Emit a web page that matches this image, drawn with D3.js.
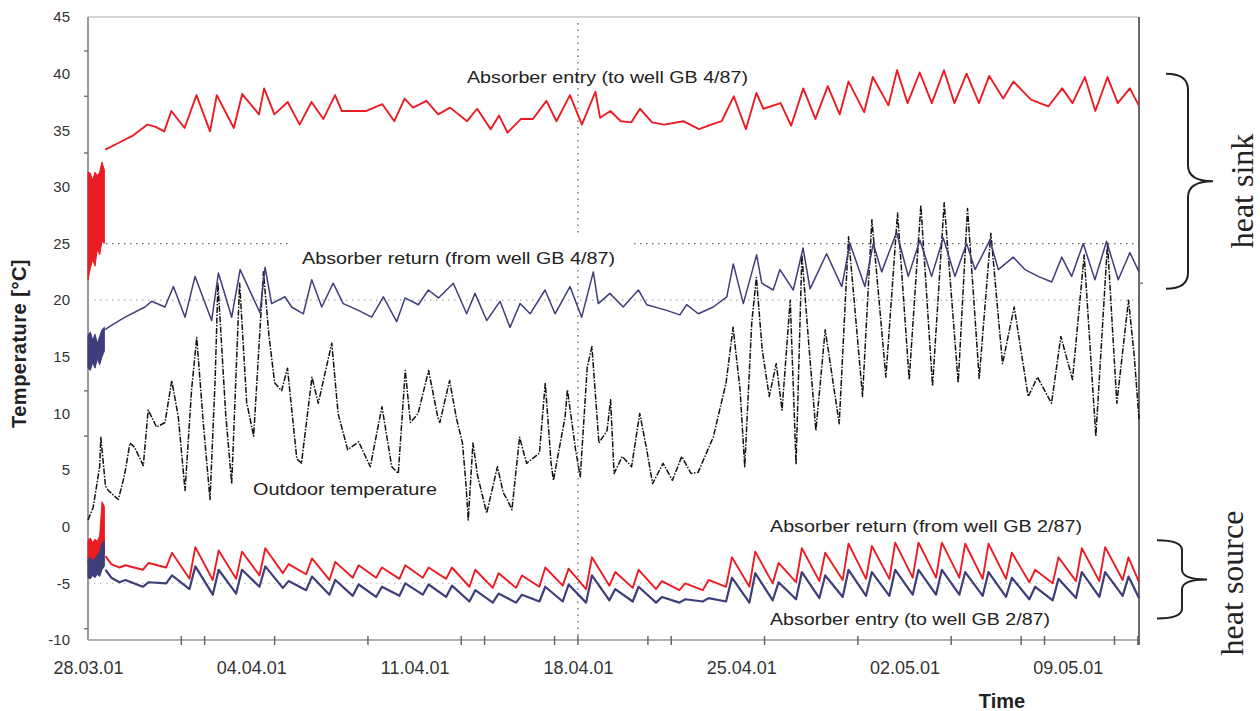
<!DOCTYPE html>
<html>
<head>
<meta charset="utf-8">
<script src="https://cdn.jsdelivr.net/npm/d3@7"></script>
<style>
  body { margin: 0; background: #fff; }
  svg { display: block; font-family: "Liberation Sans", Arial, sans-serif; }
</style>
</head>
<body>
<svg id="drawing_region"></svg>
<script>
// time is counted in days from 28.03.01 00:00
const dateLabelDays = [0, 7, 14, 21, 28, 35, 42];
const dateLabels = ["28.03.01", "04.04.01", "11.04.01", "18.04.01", "25.04.01", "02.05.01", "09.05.01"];
const minorTickDays = [4, 5, 8, 12, 16, 17, 20, 21, 24, 25, 29, 33, 37, 40, 41, 44, 45];
const tempTicks = [-10, -5, 0, 5, 10, 15, 20, 25, 30, 35, 40, 45];
const leftMinorTicks = [42, 38, 33, 12, 8, -9];

// start-up phase (fast cycling) : envelopes
const burstT = [0, 0.1, 0.2, 0.3, 0.4, 0.5, 0.6, 0.7];
const burstSinkEntryHi = [31.3, 31.2, 30.6, 31.3, 31.0, 31.3, 32.2, 31.5];
const burstSinkEntryLo = [21.8, 22.8, 23.6, 23.0, 24.5, 24.0, 25.2, 25.0];
const burstSinkReturnHi = [16.9, 17.2, 16.5, 17.0, 16.2, 16.8, 17.4, 17.6];
const burstSinkReturnLo = [14.0, 13.8, 14.5, 14.0, 14.8, 14.3, 15.0, 15.5];
const burstSrcReturnHi = [-1.2, -1.0, -1.4, -1.1, -1.3, -0.8, 2.2, 1.8];
const burstSrcReturnLo = [-3.2, -3.0, -3.3, -3.0, -3.2, -2.8, -2.6, -2.5];
const burstSrcEntryHi = [-2.9, -2.7, -3.0, -2.8, -2.5, -2.2, -1.5, -1.2];
const burstSrcEntryLo = [-4.5, -4.6, -4.3, -4.5, -4.2, -4.4, -3.8, -3.5];

// absorber entry (to well GB 4/87)
const sinkEntryT = [0.74, 1.32, 1.90, 2.55, 2.90, 3.27, 3.57, 4.14, 4.65, 5.23, 5.52, 6.25, 6.61, 7.33, 7.55,
  7.99, 8.56, 9.07, 9.58, 10.09, 10.59, 10.88, 11.90, 12.62, 13.13, 13.57, 13.93, 14.51, 15.01, 15.52,
  16.25, 16.68, 17.26, 17.62, 17.98, 18.56, 19.07, 19.65, 20.08, 20.66, 21.17, 21.75, 21.95, 22.39, 22.84,
  23.29, 23.66, 24.18, 24.70, 25.52, 26.19, 26.71, 27.16, 27.68, 28.20, 28.65, 28.95, 29.69, 30.14, 30.66,
  31.18, 31.71, 32.22, 32.60, 33.27, 33.64, 34.31, 34.68, 35.13, 35.65, 36.17, 36.69, 37.14, 37.66, 38.19,
  38.63, 39.23, 39.67, 40.42, 41.16, 41.76, 42.20, 42.73, 43.18, 43.70, 44.14, 44.66, 45.04];
const sinkEntryV = [33.3, 33.9, 34.5, 35.5, 35.3, 34.9, 36.7, 35.2, 38.1, 34.9, 38.1, 35.2, 38.2, 36.4, 38.7,
  36.4, 37.5, 35.5, 37.5, 36.0, 38.1, 36.7, 36.7, 37.3, 35.8, 37.8, 37.0, 37.6, 36.4, 37.0,
  35.8, 36.9, 35.1, 36.3, 34.8, 36.0, 36.0, 37.6, 35.8, 38.1, 35.5, 38.4, 36.1, 36.7, 35.8,
  35.7, 36.9, 35.7, 35.5, 35.8, 35.1, 35.5, 35.8, 38.0, 35.1, 38.3, 36.9, 37.4, 35.4, 38.7,
  36.0, 38.9, 36.4, 39.3, 36.6, 39.7, 37.2, 40.3, 37.4, 40.1, 37.4, 40.3, 37.4, 40.0, 37.4,
  39.8, 37.8, 39.3, 37.7, 37.1, 38.7, 37.4, 39.7, 36.7, 39.7, 37.4, 38.7, 37.2];

// absorber return (from well GB 4/87)
const sinkReturnT = [0.73, 1.02, 1.59, 2.44, 2.73, 3.30, 3.66, 4.16, 4.59, 5.30, 5.59, 6.16, 6.52, 7.37, 7.59,
  7.87, 8.44, 8.73, 9.23, 9.59, 10.02, 10.51, 10.94, 11.59, 12.16, 12.66, 13.23, 13.59, 14.16, 14.59,
  15.02, 15.66, 16.23, 16.59, 17.09, 17.66, 18.09, 18.52, 18.95, 19.59, 20.02, 20.66, 21.16, 21.66, 21.87,
  22.37, 22.94, 23.59, 23.95, 24.80, 25.37, 25.66, 26.16, 26.80, 27.38, 27.66, 28.09, 28.66, 28.88, 29.37,
  29.66, 30.23, 30.65, 30.95, 31.66, 32.31, 32.66, 33.30, 33.66, 34.02, 34.66, 35.16, 35.66, 36.16, 36.66,
  37.16, 37.66, 38.02, 38.66, 39.02, 39.66, 40.16, 40.73, 41.31, 41.74, 42.16, 42.66, 43.16, 43.66, 44.16,
  44.66, 45.05];
const sinkReturnV = [17.4, 17.8, 18.5, 19.4, 19.9, 19.4, 21.2, 18.5, 22.1, 18.2, 22.4, 18.5, 22.7, 18.9, 22.9,
  19.7, 20.3, 19.4, 18.8, 21.8, 19.4, 21.5, 19.7, 19.1, 18.5, 20.3, 18.1, 20.2, 19.6, 20.9,
  20.2, 21.5, 18.8, 20.6, 18.2, 19.9, 17.6, 19.7, 18.8, 20.9, 18.8, 21.2, 18.5, 22.5, 19.7,
  20.6, 19.4, 20.9, 19.6, 19.1, 18.7, 19.6, 18.8, 19.4, 20.3, 23.2, 19.7, 24.0, 21.5, 20.9,
  22.7, 20.9, 24.6, 21.0, 24.1, 21.2, 25.0, 21.2, 25.0, 22.5, 26.0, 22.1, 25.3, 22.1, 25.5,
  22.1, 25.0, 22.7, 25.3, 22.7, 23.8, 22.7, 22.1, 21.6, 23.8, 22.1, 25.0, 21.8, 25.2, 21.8,
  24.2, 22.5];

// outdoor temperature
const outdoorT = [0, 0.22, 0.5, 0.55, 0.75, 0.87, 1.3, 1.56, 1.8, 2.0,
  2.37, 2.58, 2.94, 3.3, 3.59, 3.87, 4.16, 4.44, 4.66, 4.94,
  5.23, 5.45, 5.57, 5.9, 6.16, 6.5, 6.8, 7.1, 7.52, 7.75,
  8.0, 8.3, 8.55, 8.95, 9.15, 9.6, 9.87, 10.45, 10.72, 11.13,
  11.6, 12.1, 12.6, 13.02, 13.3, 13.6, 13.82, 14.15, 14.6, 14.99,
  15.08, 15.5, 15.8, 16.05, 16.2, 16.3, 16.5, 16.7, 17.09, 17.55,
  17.8, 17.97, 18.17, 18.5, 18.8, 19.35, 19.6, 19.85, 19.95, 20.45,
  20.55, 20.9, 21.1, 21.4, 21.6, 21.9, 22.25, 22.4, 22.55, 22.9,
  23.3, 23.65, 23.95, 24.2, 24.65, 25.05, 25.45, 25.85, 26.15, 26.8,
  27.35, 27.65, 27.95, 28.15, 28.45, 28.65, 28.9, 29.2, 29.5, 29.75,
  30.1, 30.35, 30.6, 30.9, 31.2, 31.6, 32.2, 32.6, 33.2, 33.6,
  34.2, 34.7, 35.2, 35.7, 36.2, 36.7, 37.3, 37.7, 38.2, 38.7,
  39.2, 39.7, 40.3, 40.7, 41.3, 41.7, 42.2, 42.45, 42.7, 43.2,
  43.7, 44.1, 44.6, 44.85, 45.05];
const outdoorV = [0.6, 1.7, 5.3, 7.9, 3.6, 3.2, 2.4, 4.5, 7.4, 7.0,
  5.4, 10.3, 8.8, 9.2, 12.9, 9.7, 3.2, 12.1, 16.7, 9.2,
  2.4, 13.0, 21.5, 10.0, 3.8, 21.5, 11.0, 8.0, 22.5, 17.0,
  12.7, 12.0, 14.0, 6.0, 5.6, 13.2, 10.9, 16.2, 10.0, 6.8,
  7.5, 5.3, 10.6, 5.3, 4.7, 13.8, 9.2, 10.0, 13.8, 9.7,
  9.2, 12.9, 9.5, 7.4, 3.8, 0.6, 7.4, 4.5, 1.2, 5.3,
  3.0, 2.4, 1.5, 7.9, 5.6, 6.5, 12.7, 5.6, 4.1, 9.7,
  12.1, 6.8, 4.4, 14.1, 15.9, 7.4, 8.5, 11.2, 4.7, 6.2,
  5.3, 10.0, 6.8, 3.8, 5.6, 4.1, 6.2, 4.7, 4.8, 7.9,
  12.7, 17.6, 12.1, 5.3, 18.0, 22.0, 15.6, 11.5, 14.4, 10.3,
  20.0, 5.5, 24.0, 16.0, 8.5, 17.4, 9.1, 25.6, 11.5, 27.1,
  13.2, 27.7, 13.0, 28.4, 12.4, 28.6, 12.7, 28.1, 13.1, 25.9,
  14.4, 19.4, 11.5, 13.2, 10.9, 16.8, 13.0, 18.5, 24.0, 8.0,
  25.0, 10.9, 20.0, 15.0, 9.5];

// heat source side: morning low / midday high per day
const sourceT = [0.75, 1.0,
  1.35, 1.6, 2.35, 2.6, 3.35, 3.6, 4.35, 4.6, 5.35, 5.6, 6.35, 6.6, 7.35, 7.6, 8.35, 8.6, 9.35, 9.6, 10.35, 10.6,
  11.35, 11.6, 12.35, 12.6, 13.35, 13.6, 14.35, 14.6, 15.35, 15.6, 16.35, 16.6, 17.35, 17.6, 18.35, 18.6, 19.35, 19.6, 20.35, 20.6,
  21.35, 21.6, 22.35, 22.6, 23.35, 23.6, 24.35, 24.6, 25.35, 25.6, 26.35, 26.6, 27.35, 27.6, 28.35, 28.6, 29.35, 29.6, 30.35, 30.6,
  31.35, 31.6, 32.35, 32.6, 33.35, 33.6, 34.35, 34.6, 35.35, 35.6, 36.35, 36.6, 37.35, 37.6, 38.35, 38.6, 39.35, 39.6, 40.35, 40.6,
  41.35, 41.6, 42.35, 42.6, 43.35, 43.6, 44.35, 44.6, 45.05];
// absorber return (from well GB 2/87)
const sourceReturnV = [-2.6, -3.3,
  -3.6, -3.4, -3.8, -3.2, -3.6, -2.3, -4.6, -1.8, -4.7, -2.1, -4.6, -2.2, -4.3, -1.9, -4.1, -3.3, -4.2, -2.8, -4.7, -3.1,
  -4.5, -3.4, -4.5, -3.6, -4.6, -3.4, -4.5, -3.6, -4.6, -3.6, -5.3, -3.8, -5.4, -4.1, -5.4, -4.3, -5.3, -3.6, -5.2, -3.7,
  -5.5, -2.7, -5.2, -4.0, -5.4, -3.8, -5.5, -4.8, -5.6, -5.0, -5.6, -4.7, -5.3, -2.7, -5.3, -2.2, -5.0, -3.2, -4.9, -1.9,
  -4.8, -2.3, -4.7, -1.5, -4.6, -1.7, -4.6, -1.4, -4.5, -1.4, -4.5, -1.4, -4.5, -1.5, -4.6, -1.5, -4.6, -2.3, -4.9, -3.8,
  -5.0, -2.7, -4.8, -1.9, -4.8, -1.8, -4.7, -2.7, -4.9];
// absorber entry (to well GB 2/87)
const sourceEntryV = [-3.8, -4.5,
  -4.9, -4.7, -5.3, -4.9, -5.0, -4.3, -5.5, -3.5, -6.0, -3.8, -5.9, -3.8, -5.3, -3.5, -5.4, -4.8, -5.6, -4.4, -6.0, -4.7,
  -6.1, -5.1, -6.2, -5.3, -6.1, -5.0, -6.0, -5.1, -6.2, -5.2, -6.6, -5.6, -6.7, -5.9, -6.7, -6.0, -6.6, -5.3, -6.6, -5.1,
  -6.7, -4.3, -6.5, -5.5, -6.6, -5.3, -6.7, -6.2, -6.7, -6.4, -6.6, -6.3, -6.6, -4.5, -6.7, -4.1, -6.5, -4.9, -6.4, -4.0,
  -6.3, -4.3, -6.2, -3.8, -6.1, -4.0, -6.1, -3.8, -6.0, -3.8, -6.0, -3.8, -6.0, -4.0, -6.1, -4.0, -6.2, -4.5, -6.4, -5.3,
  -6.5, -4.6, -6.3, -4.0, -6.2, -4.0, -6.1, -4.4, -6.3];

const RED = "#ec1c24";
const BLUE = "#3e3e7a";

const config = {
  width: 1260,
  height: 711,
  margin: { top: 17, right: 121, bottom: 71, left: 88 },
};

const svg = d3.select("#drawing_region")
  .attr("width", config.width)
  .attr("height", config.height);

const plotLeft = config.margin.left;
const plotRight = config.width - config.margin.right;
const plotTop = config.margin.top;
const plotBottom = config.height - config.margin.bottom;

const xscale = d3.scaleLinear().domain([0, 45.05]).range([plotLeft, plotRight]);
const yscale = d3.scaleLinear().domain([-10, 45]).range([plotBottom, plotTop]);

// dotted grid lines
const grid = svg.append("g");
[[25, "#666"], [20, "#aaa"], [-5, "#c4c4c4"]].forEach(([v, c]) => {
  grid.append("line")
    .attr("x1", plotLeft).attr("x2", plotRight)
    .attr("y1", yscale(v)).attr("y2", yscale(v))
    .attr("stroke", c).attr("stroke-width", 1.3)
    .attr("stroke-dasharray", "1.5,4.5");
});
grid.append("line")
  .attr("x1", xscale(21)).attr("x2", xscale(21))
  .attr("y1", plotTop + 6).attr("y2", plotBottom)
  .attr("stroke", "#666").attr("stroke-width", 1.3)
  .attr("stroke-dasharray", "1.5,5");

// white box behind the upper return label
svg.append("rect")
  .attr("x", 290).attr("y", 236)
  .attr("width", 343).attr("height", 25)
  .attr("fill", "#fff");

// frame and axes
svg.append("line").attr("x1", plotLeft).attr("x2", plotRight).attr("y1", plotTop).attr("y2", plotTop)
  .attr("stroke", "#c8c8c8").attr("stroke-width", 1.5);
svg.append("line").attr("x1", plotLeft).attr("x2", plotLeft).attr("y1", plotTop).attr("y2", plotBottom)
  .attr("stroke", "#9a9a9a").attr("stroke-width", 2);
svg.append("line").attr("x1", plotLeft).attr("x2", plotRight).attr("y1", plotBottom).attr("y2", plotBottom)
  .attr("stroke", "#b0b0b0").attr("stroke-width", 2);
svg.append("line").attr("x1", plotRight).attr("x2", plotRight).attr("y1", plotTop).attr("y2", plotBottom + 5)
  .attr("stroke", "#444").attr("stroke-width", 1.6);

const yaxis = d3.axisLeft(yscale)
  .tickValues(tempTicks)
  .tickSize(0)
  .tickPadding(18)
  .tickFormat((d) => String(d));
svg.append("g")
  .attr("transform", `translate(${plotLeft},0)`)
  .call(yaxis)
  .call((g) => g.select(".domain").remove())
  .selectAll("text")
  .attr("font-size", "15px")
  .attr("fill", "#333");

svg.append("g")
  .selectAll("line")
  .data(leftMinorTicks)
  .join("line")
  .attr("x1", plotLeft - 4).attr("x2", plotLeft)
  .attr("y1", (d) => yscale(d)).attr("y2", (d) => yscale(d))
  .attr("stroke", "#777").attr("stroke-width", 1.5);
svg.append("line")
  .attr("x1", plotRight).attr("x2", plotRight + 4)
  .attr("y1", yscale(21.5)).attr("y2", yscale(21.5))
  .attr("stroke", "#777").attr("stroke-width", 1.5);

const xaxis = d3.axisBottom(xscale)
  .tickValues(dateLabelDays)
  .tickSize(0)
  .tickPadding(21)
  .tickFormat((d, i) => dateLabels[i]);
svg.append("g")
  .attr("transform", `translate(0,${plotBottom})`)
  .call(xaxis)
  .call((g) => g.select(".domain").remove())
  .selectAll("text")
  .attr("font-size", "18px")
  .attr("fill", "#333");

svg.append("g")
  .selectAll("line")
  .data(minorTickDays)
  .join("line")
  .attr("x1", (d) => xscale(d)).attr("x2", (d) => xscale(d))
  .attr("y1", plotBottom - 4).attr("y2", plotBottom + 5)
  .attr("stroke", "#666").attr("stroke-width", 1.5);

// axis titles
svg.append("text")
  .attr("transform", `translate(26,${(plotTop + plotBottom) / 2 + 15}) rotate(-90)`)
  .attr("text-anchor", "middle")
  .attr("font-size", "20px")
  .attr("font-weight", "bold")
  .attr("letter-spacing", "0.5px")
  .attr("fill", "#222")
  .text("Temperature [°C]");

svg.append("text")
  .attr("x", 1002).attr("y", 708)
  .attr("text-anchor", "middle")
  .attr("font-size", "20px")
  .attr("font-weight", "bold")
  .attr("fill", "#222")
  .text("Time");

// series
const line = d3.line().x((d) => xscale(d[0])).y((d) => yscale(d[1]));
const band = d3.area().x((d) => xscale(d[0])).y0((d) => yscale(d[1])).y1((d) => yscale(d[2]));

const drawLine = (t, v, color, width, dash) => {
  svg.append("path")
    .datum(d3.zip(t, v))
    .attr("d", line)
    .attr("fill", "none")
    .attr("stroke", color)
    .attr("stroke-width", width)
    .attr("stroke-linejoin", "round")
    .attr("stroke-dasharray", dash || null);
};
const drawBand = (lo, hi, color) => {
  svg.append("path")
    .datum(d3.zip(burstT, lo, hi))
    .attr("d", band)
    .attr("fill", color)
    .attr("stroke", color)
    .attr("stroke-width", 1);
};

drawLine(outdoorT, outdoorV, "#111", 1.5, "6,1.5,1.5,1.5");
drawLine(sinkReturnT, sinkReturnV, BLUE, 1.5);
drawLine(sinkEntryT, sinkEntryV, RED, 1.9);
drawLine(sourceT, sourceReturnV, RED, 1.9);
drawLine(sourceT, sourceEntryV, BLUE, 2.2);

drawBand(burstSinkEntryLo, burstSinkEntryHi, RED);
drawBand(burstSinkReturnLo, burstSinkReturnHi, BLUE);
drawBand(burstSrcReturnLo, burstSrcReturnHi, RED);
drawBand(burstSrcEntryLo, burstSrcEntryHi, BLUE);

// series labels
const labels = [
  { text: "Absorber entry (to well GB 4/87)", x: 467, y: 83, w: 281 },
  { text: "Absorber return (from well GB 4/87)", x: 302, y: 264, w: 313 },
  { text: "Outdoor temperature", x: 253, y: 495, w: 184 },
  { text: "Absorber return (from well GB 2/87)", x: 770, y: 532, w: 312 },
  { text: "Absorber entry (to well GB 2/87)", x: 770, y: 625, w: 280 },
];
svg.append("g")
  .selectAll("text")
  .data(labels)
  .join("text")
  .attr("x", (d) => d.x)
  .attr("y", (d) => d.y)
  .attr("textLength", (d) => d.w)
  .attr("lengthAdjust", "spacingAndGlyphs")
  .attr("font-size", "17px")
  .attr("fill", "#222")
  .text((d) => d.text);

// braces
const brace = (vTop, vBot, xTip, xStem, xPoint, r) => {
  const y0 = yscale(vTop), y1 = yscale(vBot), ym = (y0 + y1) / 2;
  return `M${xTip},${y0} Q${xStem},${y0} ${xStem},${y0 + r} L${xStem},${ym - r} ` +
    `Q${xStem},${ym} ${xPoint},${ym} Q${xStem},${ym} ${xStem},${ym + r} ` +
    `L${xStem},${y1 - r} Q${xStem},${y1} ${xTip},${y1}`;
};
svg.append("path")
  .attr("d", brace(40, 21, 1166, 1188, 1213, 16))
  .attr("fill", "none").attr("stroke", "#222").attr("stroke-width", 2);
svg.append("path")
  .attr("d", brace(-1.2, -8.1, 1157, 1182, 1207, 10))
  .attr("fill", "none").attr("stroke", "#222").attr("stroke-width", 2);

const sideLabels = [
  { text: "heat sink", x: 1253, y: 191 },
  { text: "heat source", x: 1243, y: 583 },
];
svg.append("g")
  .selectAll("text")
  .data(sideLabels)
  .join("text")
  .attr("transform", (d) => `translate(${d.x},${d.y}) rotate(-90)`)
  .attr("text-anchor", "middle")
  .attr("font-family", "'Liberation Serif', 'Times New Roman', serif")
  .attr("font-size", "32px")
  .attr("fill", "#222")
  .text((d) => d.text);
</script>
</body>
</html>
